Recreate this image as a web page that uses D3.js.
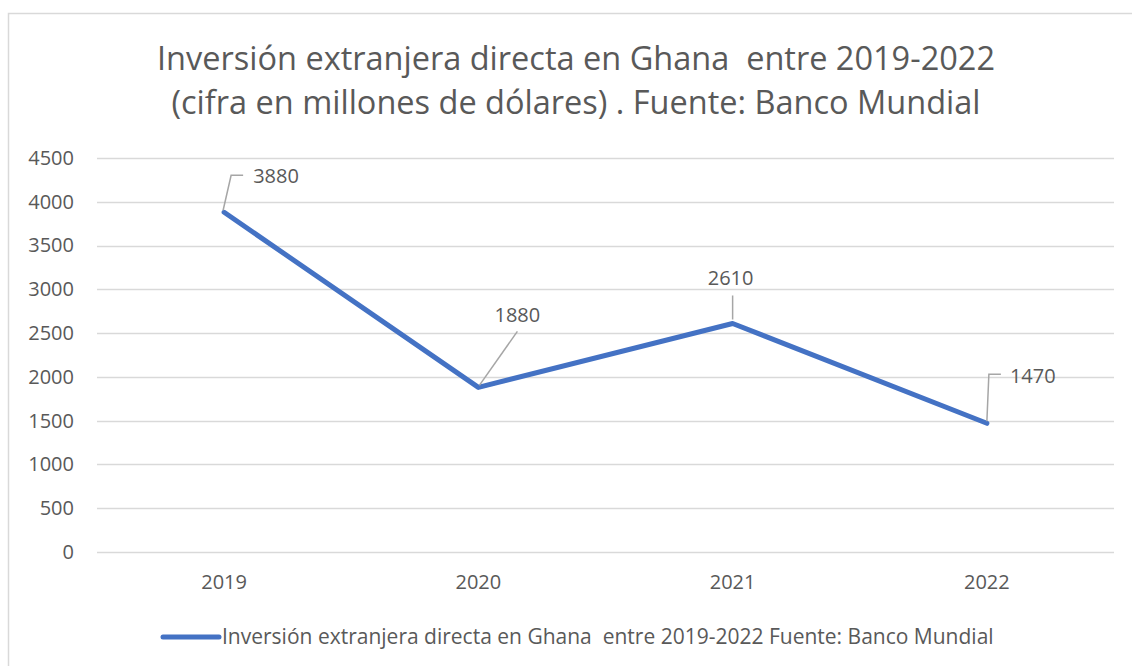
<!DOCTYPE html>
<html>
<head>
<meta charset="utf-8">
<script src="https://cdn.jsdelivr.net/npm/d3@7"></script>
<style>
  body { margin: 0; background: #fff; }
  text { font-family: "Open Sans", "Noto Sans", sans-serif; fill: #595959; white-space: pre; }
</style>
</head>
<body>
<svg id="chart" width="1132" height="666"></svg>
<script>
// Data
var years = ["2019", "2020", "2021", "2022"];
var values = [3880, 1880, 2610, 1470];
var yTicks = [0, 500, 1000, 1500, 2000, 2500, 3000, 3500, 4000, 4500];
var titleLines = [
  "Inversión extranjera directa en Ghana  entre 2019-2022",
  "(cifra en millones de dólares) . Fuente: Banco Mundial"
];
var seriesName = "Inversión extranjera directa en Ghana  entre 2019-2022 Fuente: Banco Mundial";

var data = years.map(function(y, i) { return { year: y, value: values[i] }; });

const svg = d3.select("#chart");
const margin = { top: 158, bottom: 114, left: 97, right: 18 };
const width = 1132 - margin.left - margin.right;
const height = 666 - margin.top - margin.bottom;

// chart frame
svg.append("rect")
  .attr("x", 8.5).attr("y", 13.5)
  .attr("width", 1140).attr("height", 680)
  .attr("fill", "none")
  .attr("stroke", "#d9d9d9")
  .attr("stroke-width", 1.5);

// title
svg.append("g")
  .selectAll("text")
  .data(titleLines)
  .enter()
  .append("text")
  .attr("x", 576)
  .attr("y", (d, i) => 70 + i * 44)
  .attr("text-anchor", "middle")
  .style("font-size", "32.5px")
  .text(d => d);

const plot = svg.append("g")
  .attr("transform", `translate(${margin.left}, ${margin.top})`);

const x = d3.scaleBand().domain(years).range([0, width]);
const y = d3.scaleLinear().domain([0, 4500]).range([height, 0]);

// gridlines
plot.append("g")
  .selectAll("line")
  .data(yTicks)
  .enter()
  .append("line")
  .attr("x1", 0).attr("x2", width)
  .attr("y1", d => Math.round(y(d)) + 0.5)
  .attr("y2", d => Math.round(y(d)) + 0.5)
  .attr("stroke", "#d9d9d9")
  .attr("stroke-width", 1.5);

// y axis labels
const yaxis = d3.axisLeft(y).tickValues(yTicks).tickFormat(d3.format("d")).tickSize(0).tickPadding(23);
plot.append("g").call(yaxis)
  .call(g => g.select(".domain").remove())
  .selectAll("text")
  .style("font-size", "20px")
  .attr("fill", "#595959");

// x axis labels
const xaxis = d3.axisBottom(x).tickSize(0).tickPadding(23);
plot.append("g")
  .attr("transform", `translate(0,${height})`)
  .call(xaxis)
  .call(g => g.select(".domain").remove())
  .selectAll("text")
  .style("font-size", "20px")
  .attr("fill", "#595959");

const cx = d => x(d.year) + x.bandwidth() / 2;

// line
plot.append("path")
  .datum(data)
  .attr("fill", "none")
  .attr("stroke", "#4472c4")
  .attr("stroke-width", 5)
  .attr("stroke-linecap", "round")
  .attr("stroke-linejoin", "round")
  .attr("d", d3.line().x(cx).y(d => y(d.value)));

// data labels with leader lines (offsets relative to point)
var labelOffsets = [
  { dx: 29, dy: -29, lead: [[-1, -2], [7, -37], [19, -37]] },
  { dx: 39, dy: -65, lead: [[1, -2], [39, -56]] },
  { dx: -2, dy: -38, lead: [[0, -4], [0, -28]] },
  { dx: 23, dy: -40, lead: [[0, -2], [2, -49], [14, -49]] }
];

const labels = plot.append("g");
data.forEach(function(d, i) {
  var px = cx(d), py = y(d.value), o = labelOffsets[i];
  labels.append("path")
    .attr("d", d3.line()(o.lead.map(p => [px + p[0], py + p[1]])))
    .attr("fill", "none")
    .attr("stroke", "#a6a6a6")
    .attr("stroke-width", 1.5);
  labels.append("text")
    .attr("x", px + o.dx)
    .attr("y", py + o.dy)
    .attr("text-anchor", i === 0 || i === 3 ? "start" : "middle")
    .style("font-size", "20px")
    .text(d.value);
});

// legend
const legend = svg.append("g").attr("transform", "translate(163, 637)");
legend.append("line")
  .attr("x1", 0).attr("x2", 56)
  .attr("y1", 0).attr("y2", 0)
  .attr("stroke", "#4472c4")
  .attr("stroke-width", 5)
  .attr("stroke-linecap", "round");
legend.append("text")
  .attr("x", 59)
  .attr("y", 7)
  .style("font-size", "21px")
  .text(seriesName);
</script>
</body>
</html>
